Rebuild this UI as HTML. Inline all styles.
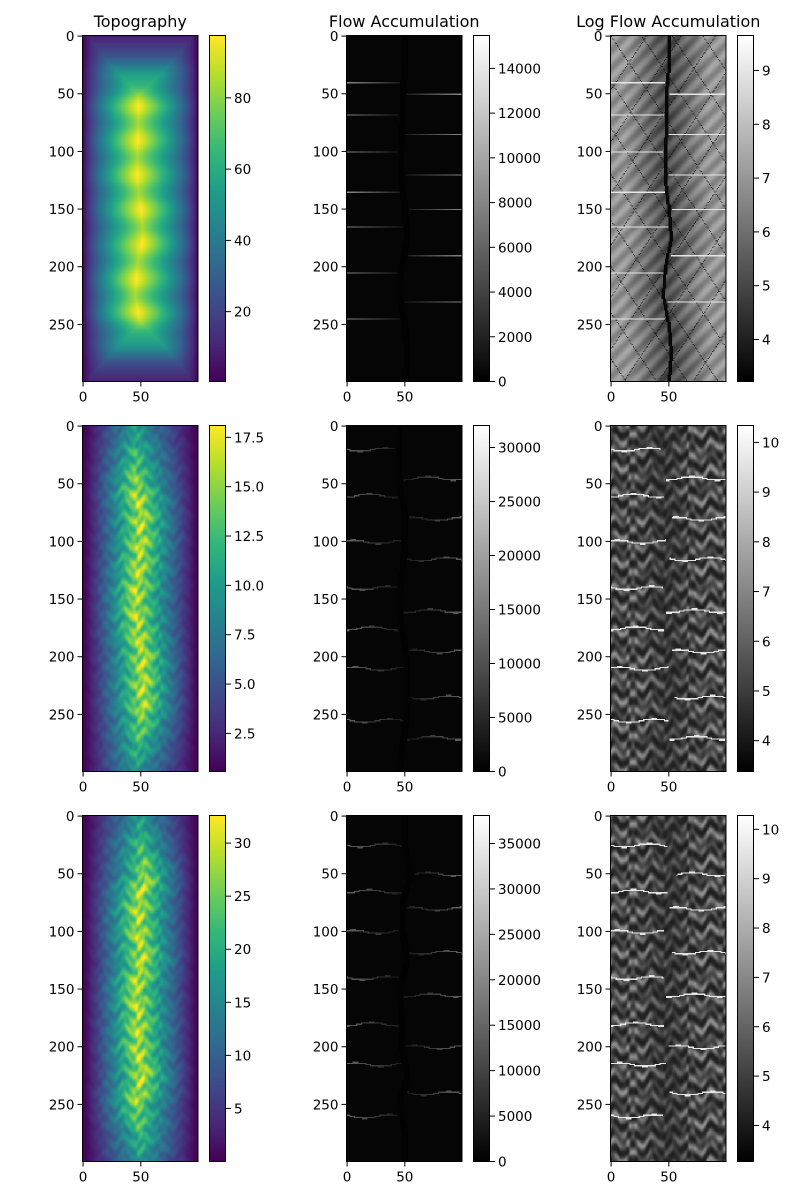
<!DOCTYPE html>
<html><head><meta charset="utf-8"><style>
body{margin:0;background:#fff;width:800px;height:1200px;position:relative;overflow:hidden;font-family:"DejaVu Sans","Liberation Sans",sans-serif}
canvas{position:absolute;image-rendering:pixelated}
svg{position:absolute;left:0;top:0}
</style></head><body>
<div id="root"></div>
<svg id="ov" width="800" height="1200"></svg>
<script>
// ---- data ----
const titles = ["Topography","Flow Accumulation","Log Flow Accumulation"];
const rowTops = [35.5, 425.5, 815.5];
const colLefts = [82.5, 346.5, 610.5];
const cbLefts = [209, 473, 737];
const yTicks = [0,50,100,150,200,250];
const xTicks = [0,50];
const topoRange = [[0.4,97.5],[0.57,18.1],[0.0,32.6]];
const flowRange = [[0,15470],[0,32040],[0,38080]];
const logRange = [[3.22,9.65],[3.38,10.34],[3.27,10.28]];
const topoTicks = [[20,40,60,80],[2.5,5.0,7.5,10.0,12.5,15.0,17.5],[5,10,15,20,25,30]];
const flowTicks = [[0,2000,4000,6000,8000,10000,12000,14000],[0,5000,10000,15000,20000,25000,30000],[0,5000,10000,15000,20000,25000,30000,35000]];
const logTicks = [[4,5,6,7,8,9],[4,5,6,7,8,9,10],[4,5,6,7,8,9,10]];
const ridges = [
 [50,50,48,48,47,47,50,52,47,45,50,52,50],
 [45,45,45,50,50,48,45,47,52,52,52,48,45],
 [50,50,55,48,48,52,45,48,47,52,45,50,50]];
const streams = [
 [40,50,68,85,100,120,135,150,165,190,205,230,245],
 [20,45,60,80,100,115,140,160,175,195,210,235,255,270],
 [25,50,65,80,100,118,140,155,180,200,215,240,260]];
const AW=115.5, AH=346, CBW=17;
const ov=document.getElementById('ov');
const NS='http://www.w3.org/2000/svg';
function mk(tag,attrs,parent){const e=document.createElementNS(NS,tag);for(const k in attrs)e.setAttribute(k,attrs[k]);(parent||ov).appendChild(e);return e;}
const vir=[[68,1,84],[72,40,120],[62,74,137],[49,104,142],[38,130,142],[31,158,137],[53,183,121],[109,205,89],[180,222,44],[253,231,37]];
function viridis(t){t=Math.max(0,Math.min(1,t))*9;const i=Math.min(8,Math.floor(t)),f=t-i;return vir[i].map((c,k)=>c+(vir[i+1][k]-c)*f);}
function ridgeAt(r,i){const a=ridges[r];const p=i/25,k=Math.min(11,Math.floor(p)),f=p-k;return a[k]+(a[k+1]-a[k])*f;}
function tex(i,j){return 0.5+0.25*Math.cos(0.31*i+1.7*Math.sin(j*0.23)+0.9*Math.sin(j*0.61))+0.25*Math.cos(0.53*i+2.1*Math.sin(j*0.37+1)+j*0.05);}
function topo(r,i,j){const rx=ridgeAt(r,i);let h=j<rx? (j+0.5)/rx : (99.5-j)/(99.5-rx);
 const e=Math.min(1,Math.min(i+0.5,299.5-i)/60);
 if(r==0){h=Math.pow(h,0.8);h=Math.min(h,0.15+e);h=h*(0.55+0.45*e);h*=0.93+0.07*Math.cos(2*Math.PI*i/30);}
 else{h=Math.pow(h,1.15);h=h*(0.6+0.4*e);h*=0.72+0.33*tex(i,j);}
 return h;}
function flow(r,i,j){const rx=ridgeAt(r,i);const s=streams[r];let v=0.02;
 for(let k=0;k<s.length;k++){const yy=s[k]+(r>0?1.5*Math.sin(j/7+k):0);const lim=(k%2?j>rx+3:j<rx-3);if(lim&&Math.abs(i-yy)<0.6){v=Math.max(v,(r==0?0.45:0.3)*(j<rx?(rx-j)/rx:(j-rx)/(100-rx))+0.08);}}
 if(Math.abs(j-rx)<3)v*=0.3;return v;}
function logf(r,i,j){const rx=ridgeAt(r,i);const d=Math.abs(j-rx)/50;let v;
 if(r==0){v=0.28+0.3*Math.min(1,d*1.4)+0.08*Math.sin((i+j)*0.4);if(Math.abs(j-rx)<1.5)v=0.03;if(Math.abs(((i-j*1.5)%40+40)%40)<1||Math.abs(((i+j*1.5)%45+45)%45)<1)v*=0.4;}
 else{const t=tex(i,j);v=0.12+0.45*Math.pow(t,1.5)*(0.5+0.5*Math.min(1,d*2));}
 const s=streams[r];for(let k=0;k<s.length;k++){const yy=s[k]+(r>0?1.5*Math.sin(j/7+k):0);const lim=(k%2?j>rx+2:j<rx-2);if(lim&&Math.abs(i-yy)<0.6)v=0.9;}
 return Math.min(1,v);}
function drawImg(x,y,fn,cmap,r){const c=document.createElement('canvas');c.width=100;c.height=300;c.style.left=x+'px';c.style.top=y+'px';c.style.width=AW+'px';c.style.height=AH+'px';
 const ctx=c.getContext('2d');const im=ctx.createImageData(100,300);
 for(let i=0;i<300;i++)for(let j=0;j<100;j++){const v=fn(r,i,j);const col=cmap(v);const p=(i*100+j)*4;im.data[p]=col[0];im.data[p+1]=col[1];im.data[p+2]=col[2];im.data[p+3]=255;}
 ctx.putImageData(im,0,0);document.getElementById('root').appendChild(c);return c;}
function drawCb(x,y,cmap){const c=document.createElement('canvas');c.width=1;c.height=256;c.style.left=x+'px';c.style.top=y+'px';c.style.width=CBW+'px';c.style.height=AH+'px';
 const ctx=c.getContext('2d');for(let k=0;k<256;k++){const col=cmap(1-k/255);ctx.fillStyle=`rgb(${col.map(Math.round).join(',')})`;ctx.fillRect(0,k,1,1);}
 document.getElementById('root').appendChild(c);return c;}
const gray=t=>{t=Math.max(0,Math.min(1,t))*255;return [t,t,t];};
const fns=[topo,flow,logf],cmaps=[viridis,gray,gray];
const ranges=[topoRange,flowRange,logRange],ticksets=[topoTicks,flowTicks,logTicks];
for(let r=0;r<3;r++)for(let c=0;c<3;c++){
 const x=colLefts[c],y=rowTops[r];
 const img=drawImg(x,y,fns[c],cmaps[c],r);
 
 
 const cb=drawCb(cbLefts[c],y,cmaps[c]);
 
 
 const f=mk('rect',{x:x,y:y,width:AW,height:AH,fill:'none',stroke:'#000','stroke-width':1});
 
 
 mk('rect',{x:cbLefts[c]+0.5,y:y,width:CBW-1,height:AH,fill:'none',stroke:'#000','stroke-width':1});
 if(r==0){const t=mk('text',{x:x+AW/2,y:27,'text-anchor':'middle','font-size':'16px'});t.textContent=titles[c];
  
  }
 const sy=v=>y+(v+0.5)*AH/300, sx=v=>x+(v+0.5)*AW/100;
 yTicks.forEach(v=>{mk('line',{x1:x-5,x2:x,y1:sy(v),y2:sy(v),stroke:'#000'});const t=mk('text',{x:x-8,y:sy(v)+5,'text-anchor':'end','font-size':'13.5px'});t.textContent=v;
  
  });
 xTicks.forEach(v=>{mk('line',{x1:sx(v),x2:sx(v),y1:y+AH,y2:y+AH+5,stroke:'#000'});const t=mk('text',{x:sx(v),y:y+AH+20,'text-anchor':'middle','font-size':'13.5px'});t.textContent=v;
  
  });
 const [mn,mx]=ranges[c][r];const cy=v=>y+AH-(v-mn)/(mx-mn)*AH;const cx=cbLefts[c]+CBW;
 ticksets[c][r].forEach(v=>{const yy=cy(v);mk('line',{x1:cx,x2:cx+5,y1:yy,y2:yy,stroke:'#000'});const t=mk('text',{x:cx+8,y:yy+5,'font-size':'13.5px'});t.textContent=(c==0&&r==1)?v.toFixed(1):v;
  
  });
}
</script>
</body></html>
